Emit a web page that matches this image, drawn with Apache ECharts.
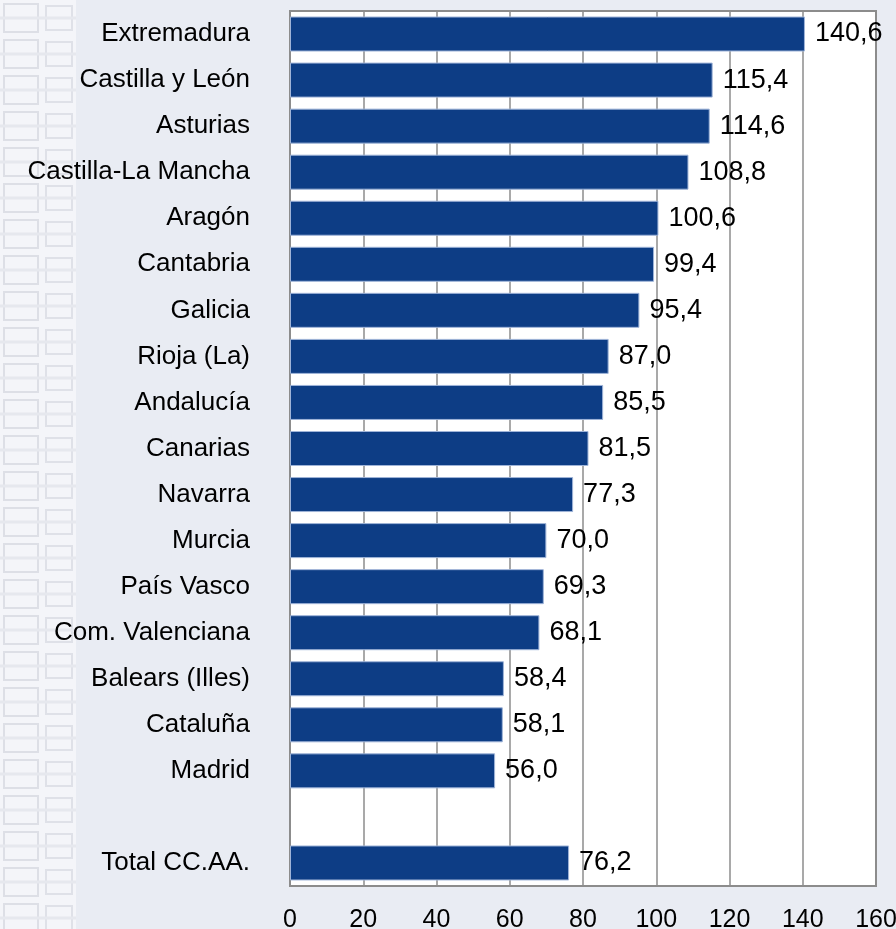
<!DOCTYPE html>
<html>
<head>
<meta charset="utf-8">
<script src="https://cdn.jsdelivr.net/npm/echarts@6/dist/echarts.min.js"></script>
<style>
html,body{margin:0;padding:0;background:#E9ECF3;}
#chart{width:896px;height:929px;}
</style>
</head>
<body>
<div id="chart"></div>
<script>
const categories = ['Extremadura','Castilla y León','Asturias','Castilla-La Mancha','Aragón','Cantabria','Galicia','Rioja (La)','Andalucía','Canarias','Navarra','Murcia','País Vasco','Com. Valenciana','Balears (Illes)','Cataluña','Madrid','','Total CC.AA.'];
const values = [140.6,115.4,114.6,108.8,100.6,99.4,95.4,87.0,85.5,81.5,77.3,70.0,69.3,68.1,58.4,58.1,56.0,null,76.2];
const xTicks = {min:0, max:160, interval:20};

const chart = echarts.init(document.getElementById('chart'), null, {renderer:'canvas'});

// decorative faint pattern on the left edge
const deco = [];
deco.push({type:'rect', shape:{x:0,y:0,width:76,height:929}, style:{fill:'#F4F5F9'}, silent:true, z:-10});
for (let y = 0; y < 929; y += 36) {
  deco.push({type:'rect', shape:{x:4,y:y+4,width:34,height:28}, style:{fill:'none',stroke:'#DDDFE6',lineWidth:2}, silent:true, z:-9});
  deco.push({type:'rect', shape:{x:46,y:y+6,width:26,height:24}, style:{fill:'none',stroke:'#DFE1E8',lineWidth:2}, silent:true, z:-9});
  deco.push({type:'line', shape:{x1:0,y1:y+18,x2:76,y2:y+18}, style:{stroke:'#E6E8EE',lineWidth:3}, silent:true, z:-9});
}

chart.setOption({
  backgroundColor:'#E9ECF3',
  animation:false,
  graphic: deco,
  grid:{left:290, right:20, top:11, bottom:43, outerBoundsMode:'none', containLabel:false,
        show:true, backgroundColor:'#FFFFFF', borderColor:'#8C8C8C', borderWidth:2},
  xAxis:{
    type:'value', min:xTicks.min, max:xTicks.max, interval:xTicks.interval,
    axisLine:{show:true, lineStyle:{color:'#8C8C8C', width:2}},
    axisTick:{show:false},
    axisLabel:{color:'#000', fontFamily:'Liberation Sans, Arial', fontSize:25, margin:22},
    splitLine:{show:true, lineStyle:{color:'#8C8C8C', width:1.5}}
  },
  yAxis:{
    type:'category', data:categories, inverse:true,
    axisLine:{show:false}, axisTick:{show:false},
    axisLabel:{color:'#000', fontFamily:'Liberation Sans, Arial', fontSize:26, margin:40}
  },
  series:[{
    type:'bar', data:values, barCategoryGap:'24%',
    itemStyle:{color:'#0D3D85', borderColor:'#9FB4D8', borderWidth:1},
    label:{show:true, position:'right', distance:10, color:'#000', fontFamily:'Liberation Sans, Arial', fontSize:27,
      formatter:p => p.value == null ? '' : p.value.toFixed(1).replace('.', ',')}
  }]
});
</script>
</body>
</html>
